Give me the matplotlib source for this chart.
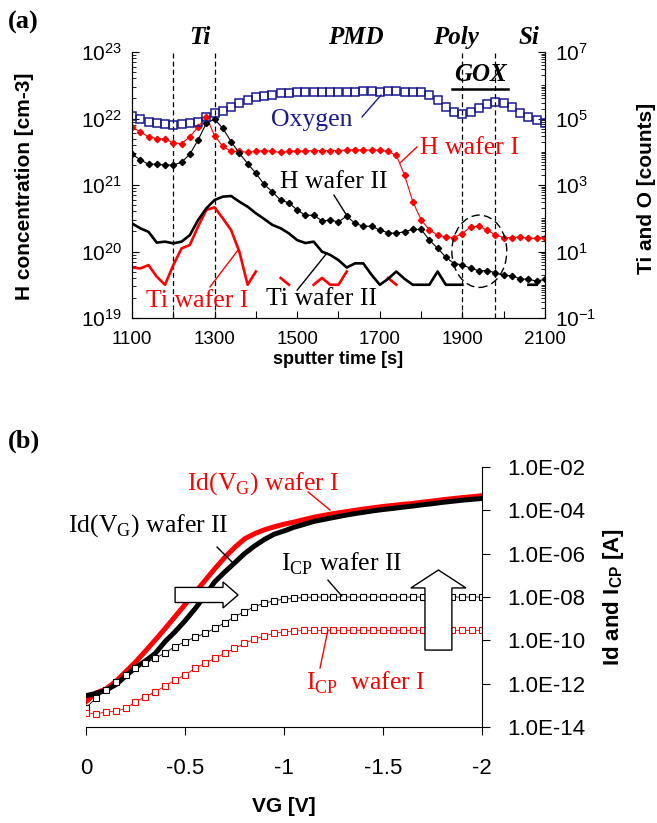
import numpy as np
import matplotlib
matplotlib.use("Agg")
import matplotlib.pyplot as plt
from matplotlib.patches import Ellipse, FancyArrow
from matplotlib.ticker import FixedLocator, NullFormatter, NullLocator

plt.rcParams['font.family'] = 'Liberation Sans'
plt.rcParams['axes.unicode_minus'] = False

nan = np.nan
navy = '#1a1a8f'
serif = 'Liberation Serif'

# ---------------- (a) SIMS profile, one point every 20 s ----------------
sputter_time = np.arange(1100, 2101, 20)

# H concentration [cm-3] (left axis)
h_wafer1 = [7.5e21, 6.3e21, 5.3e21, 5.0e21, 4.9e21, 4.3e21, 4.2e21, 5.3e21, 7.5e21, 1.06e22,
            5.5e21, 3.8e21, 3.2e21, 3.2e21, 3.1e21, 3.2e21, 3.3e21, 3.2e21, 3.1e21, 3.2e21,
            3.25e21, 3.25e21, 3.3e21, 3.3e21, 3.3e21, 3.3e21, 3.35e21, 3.4e21, 3.35e21, 3.35e21,
            3.35e21, 3.2e21, 2.8e21, 1.41e21, 5.6e20, 3.0e20, 2.1e20, 1.77e20, 1.66e20, 1.62e20,
            1.86e20, 2.36e20, 2.4e20, 2.1e20, 1.77e20, 1.62e20, 1.62e20, 1.66e20, 1.58e20, 1.58e20,
            1.62e20]
h_wafer2 = [2.9e21, 2.4e21, 2.05e21, 2.05e21, 2.0e21, 2.0e21, 2.2e21, 2.9e21, 4.75e21, 8.5e21,
            9.8e21, 7.1e21, 4.5e21, 3.0e21, 2.1e21, 1.5e21, 1.02e21, 7.9e20, 5.9e20, 5.4e20,
            4.2e20, 3.5e20, 3.5e20, 2.9e20, 2.95e20, 2.8e20, 3.4e20, 2.65e20, 2.4e20, 2.4e20,
            2.1e20, 1.92e20, 1.88e20, 1.99e20, 2.15e20, 2.15e20, 1.49e20, 1.12e20, 8.2e19, 6.6e19,
            6.3e19, 5.6e19, 5.15e19, 5.15e19, 4.8e19, 4.4e19, 4.3e19, 3.9e19, 3.8e19, 3.6e19,
            3.8e19]

# counts (right axis); nan = zero counts, not shown on log scale
oxygen = [1.22e5, 9.7e4, 8.0e4, 7.2e4, 6.7e4, 6.4e4, 6.7e4, 7.2e4, 8.0e4, 1.08e5,
          1.5e5, 1.68e5, 2.17e5, 2.86e5, 3.6e5, 4.3e5, 4.9e5, 5.2e5, 5.7e5, 6.0e5,
          6.1e5, 6.1e5, 6.3e5, 6.3e5, 6.3e5, 6.3e5, 6.3e5, 6.3e5, 6.6e5, 6.6e5,
          6.4e5, 6.6e5, 6.6e5, 6.4e5, 6.4e5, 6.3e5, 5.1e5, 3.6e5, 2.17e5, 1.6e5,
          1.33e5, 1.53e5, 2.1e5, 2.67e5, 3.06e5, 2.86e5, 2.17e5, 1.5e5, 1.14e5, 9.0e4,
          7.2e4]
ti_wafer1 = [3.3, 3.1, 3.9, 1.75, 1.0, 3.9, 12.4, 15.7, 56, 177,
             213, 99, 44, 9.9, 1.0, 2.5, nan, nan, 1.6, 1.0,
             nan, nan, 1.0, 1.6, 1.0, 1.0, 2.5, nan, nan, nan,
             nan, 1.6, 1.0, nan, nan, nan, nan, nan, nan, nan,
             nan, nan, nan, nan, nan, nan, nan, nan, nan, nan,
             nan]
ti_wafer2 = [70, 50, 39, 18.5, 19.8, 17.6, 19.8, 31, 88, 199,
             354, 446, 467, 315, 223, 141, 95, 63, 50, 35,
             22, 18, 19.8, 9.9, 7.9, 5.5, 3.3, 4.4, 4.4, 2.0,
             1.0, 1.5, 2.5, 1.5, 1.0, 1.0, 1.0, 2.5, 1.0, 1.0,
             1.0, nan, nan, nan, nan, nan, nan, nan, 1.0, 1.0,
             nan]

layer_bounds = [1200, 1300, 1900, 1980]
layer_names = ['Ti', 'PMD', 'Poly', 'Si']
layer_pos = [1265, 1642, 1885, 2061]
time_ticks = list(range(1100, 2101, 100))
time_labels = ['1100', '', '1300', '', '1500', '', '1700', '', '1900', '', '2100']

# ---------------- (b) Id(VG) and Icp, every 0.05 V (log10 of A) ----------------
gate_voltage = np.round(np.arange(0, -2.001, -0.05), 2)
id_wafer1_exp = [-12.83, -12.43, -12.25, -11.90, -11.45, -11.00, -10.50, -9.98, -9.45, -8.90,
                 -8.35, -7.80, -7.25, -6.70, -6.18, -5.72, -5.32, -5.08, -4.90, -4.76,
                 -4.64, -4.54, -4.43, -4.32, -4.23, -4.15, -4.08, -4.01, -3.94, -3.88,
                 -3.82, -3.77, -3.72, -3.68, -3.62, -3.57, -3.51, -3.46, -3.41, -3.37, -3.32]
id_wafer2_exp = [-12.55, -12.45, -12.30, -12.05, -11.65, -11.25, -10.95, -10.60, -10.05, -9.60,
                 -9.10, -8.55, -7.95, -7.30, -6.85, -6.43, -6.00, -5.65, -5.35, -5.10,
                 -4.95, -4.78, -4.65, -4.51, -4.42, -4.33, -4.24, -4.16, -4.09, -4.02,
                 -3.96, -3.91, -3.85, -3.80, -3.74, -3.69, -3.63, -3.58, -3.53, -3.49, -3.45]
icp_wafer2_exp = [-13.10, -12.68, -12.29, -11.91, -11.60, -11.29, -11.06, -10.83, -10.57, -10.29,
                  -10.06, -9.86, -9.68, -9.45, -9.19, -8.91, -8.68, -8.45, -8.29, -8.17,
                  -8.10, -8.06, -8.02, -8.00, -8.00, -8.00, -8.00, -8.00, -8.00, -8.00,
                  -8.00, -8.00, -8.00, -8.00, -8.00, -8.00, -8.00, -8.00, -8.00, -8.00, -8.00]
icp_wafer1_exp = [-13.34, -13.40, -13.30, -13.28, -13.14, -12.83, -12.60, -12.37, -12.10, -11.83,
                  -11.60, -11.29, -11.06, -10.83, -10.60, -10.37, -10.14, -9.95, -9.80, -9.68,
                  -9.60, -9.57, -9.54, -9.54, -9.54, -9.54, -9.54, -9.54, -9.54, -9.54,
                  -9.54, -9.54, -9.54, -9.54, -9.54, -9.54, -9.54, -9.54, -9.54, -9.54, -9.54]

vg_ticks = [0, -0.5, -1, -1.5, -2]
vg_labels = ['0', '-0.5', '-1', '-1.5', '-2']
i_ticks = [1e-14, 1e-12, 1e-10, 1e-8, 1e-6, 1e-4, 1e-2]
i_labels = ['1.0E-14', '1.0E-12', '1.0E-10', '1.0E-08', '1.0E-06', '1.0E-04', '1.0E-02']


def minor_log(lo, hi):
    return [m * 10.0 ** e for e in range(lo, hi) for m in range(2, 10)]


fig = plt.figure(figsize=(6.57, 8.23), dpi=100)

# ================= panel (a) =================
ax = fig.add_axes([0.2009, 0.6136, 0.6286, 0.3232])
axr = ax.twinx()

ax.plot(sputter_time, h_wafer1, color='red', lw=0.8, marker='D', ms=3.2, zorder=3)
ax.plot(sputter_time, h_wafer2, color='black', lw=0.8, marker='D', ms=3.2, zorder=3)
axr.plot(sputter_time, oxygen, ls='none', marker='s', ms=6.4, mfc='none', mec=navy, mew=1.1)
axr.plot(sputter_time, ti_wafer1, color='red', lw=1.9)
axr.plot(sputter_time, ti_wafer2, color='black', lw=1.9)

for tb in layer_bounds:
    ax.axvline(tb, color='black', lw=0.9, ls=(0, (4, 2.5)))

ax.set_yscale('log')
ax.set_ylim(1e19, 1e23)
ax.set_xlim(1100, 2100)
axr.set_yscale('log')
axr.set_ylim(0.1, 1e7)

ax.yaxis.set_major_locator(FixedLocator([1e19, 1e20, 1e21, 1e22, 1e23]))
ax.yaxis.set_minor_locator(FixedLocator(minor_log(19, 23)))
ax.yaxis.set_minor_formatter(NullFormatter())
axr.yaxis.set_major_locator(FixedLocator([1e-1, 1e1, 1e3, 1e5, 1e7]))
axr.yaxis.set_minor_locator(FixedLocator(minor_log(-1, 7) + [1, 1e2, 1e4, 1e6]))
axr.yaxis.set_minor_formatter(NullFormatter())
ax.set_xticks(time_ticks)
ax.set_xticklabels(time_labels)

for a in (ax, axr):
    a.spines['top'].set_visible(False)
    a.tick_params(axis='y', which='major', direction='in', length=5, labelsize=15, pad=7)
    a.tick_params(axis='y', which='minor', direction='in', length=3)
ax.tick_params(axis='x', direction='in', length=5, labelsize=13.5, pad=9)

xt = ax.get_xaxis_transform()
for name, pos in zip(layer_names, layer_pos):
    ax.text(pos, 1.055, name, transform=xt, family=serif, weight='bold', style='italic',
            size=18, ha='center', va='center')
ax.text(1943, 0.915, 'GOX', transform=xt, family=serif, weight='bold', style='italic',
        size=18, ha='center', va='center')
ax.plot([1874, 2010], [0.861, 0.861], transform=xt, color='black', lw=1.8, clip_on=False)

ax.add_patch(Ellipse((0.841, 0.251), 0.133, 0.272, transform=ax.transAxes, fill=False,
                     ec='black', lw=1.0, ls=(0, (6, 3)), zorder=4))

ta = ax.transAxes
ax.text(0.436, 0.744, 'Oxygen', transform=ta, family=serif, size=18.5, color=navy,
        ha='center', va='center')
ax.plot([0.557, 0.603], [0.756, 0.838], transform=ta, color=navy, lw=1)
ax.text(0.818, 0.639, 'H wafer I', transform=ta, family=serif, size=18.5, color='red',
        ha='center', va='center')
ax.plot([0.649, 0.690], [0.583, 0.643], transform=ta, color='red', lw=1)
ax.text(0.489, 0.511, 'H wafer II', transform=ta, family=serif, size=18.5, color='black',
        ha='center', va='center')
ax.plot([0.489, 0.521], [0.462, 0.383], transform=ta, color='black', lw=1)
ax.text(0.157, 0.064, 'Ti wafer I', transform=ta, family=serif, size=18.5, color='red',
        ha='center', va='center')
ax.plot([0.189, 0.257], [0.117, 0.256], transform=ta, color='red', lw=1)
ax.text(0.458, 0.071, 'Ti wafer II', transform=ta, family=serif, size=18.5, color='black',
        ha='center', va='center')
ax.plot([0.400, 0.472], [0.105, 0.244], transform=ta, color='black', lw=1)

fig.text(25 / 657, 1 - 186 / 823, 'H concentration [cm-3]', rotation=90, weight='bold',
         size=15, ha='center', va='center')
fig.text(646 / 657, 1 - 188 / 823, 'Ti and O [counts]', rotation=90, weight='bold',
         size=15, ha='center', va='center')
fig.text(338 / 657, 1 - 359 / 823, 'sputter time [s]', weight='bold', size=13,
         ha='center', va='center')
fig.text(8 / 657, 1 - 22 / 823, '(a)', family=serif, weight='bold', size=19,
         ha='left', va='center')

# ================= panel (b) =================
bx = fig.add_axes([0.1309, 0.1166, 0.6027, 0.3159])

bx.plot(gate_voltage, 10.0 ** np.array(id_wafer1_exp), color='red', lw=3.6)
bx.plot(gate_voltage, 10.0 ** np.array(id_wafer2_exp), color='black', lw=3.6)
bx.plot(gate_voltage, 10.0 ** np.array(icp_wafer2_exp), color='black', lw=0.6,
        marker='s', ms=3.8, mfc='white', mew=0.8)
bx.plot(gate_voltage, 10.0 ** np.array(icp_wafer1_exp), color='red', lw=0.6,
        marker='s', ms=3.8, mfc='white', mew=0.8)

bx.set_yscale('log')
bx.set_ylim(1e-14, 1e-2)
bx.set_xlim(0, -2)
bx.spines['top'].set_visible(False)
bx.spines['left'].set_visible(False)
bx.yaxis.tick_right()
bx.yaxis.set_major_locator(FixedLocator(i_ticks))
bx.yaxis.set_minor_locator(NullLocator())
bx.set_yticklabels(i_labels)
bx.set_xticks(vg_ticks)
bx.set_xticklabels(vg_labels)
bx.tick_params(axis='y', direction='out', length=6, labelsize=16, pad=12)
bx.tick_params(axis='x', direction='out', length=6, labelsize=16, pad=16)

tb_ = bx.transAxes
bx.text(0.447, 0.938, r'Id(V$_{\mathdefault{G}}$) wafer I', transform=tb_, family=serif,
        size=18.5, color='red', ha='center', va='center')
bx.plot([0.561, 0.616], [0.904, 0.835], transform=tb_, color='red', lw=1)
bx.text(0.157, 0.773, r'Id(V$_{\mathdefault{G}}$) wafer II', transform=tb_, family=serif,
        size=18.5, color='black', ha='center', va='center')
bx.plot([0.331, 0.374], [0.692, 0.627], transform=tb_, color='black', lw=1)
bx.text(0.646, 0.627, r'I$_{\mathdefault{CP}}$ wafer II', transform=tb_, family=serif,
        size=18.5, color='black', ha='center', va='center')
bx.plot([0.611, 0.646], [0.565, 0.504], transform=tb_, color='black', lw=1)
bx.text(0.705, 0.169, r'I$_{\mathdefault{CP}}$  wafer I', transform=tb_, family=serif,
        size=18.5, color='red', ha='center', va='center')
bx.plot([0.591, 0.611], [0.227, 0.373], transform=tb_, color='red', lw=1)

bx.add_patch(FancyArrow(0.225, 0.508, 0.159, 0, width=0.058, head_width=0.100,
                        head_length=0.038, length_includes_head=True, transform=tb_,
                        fc='white', ec='black', lw=1, zorder=6))
bx.add_patch(FancyArrow(0.890, 0.296, 0, 0.308, width=0.068, head_width=0.139,
                        head_length=0.069, length_includes_head=True, transform=tb_,
                        fc='white', ec='black', lw=1, zorder=6))

fig.text(614 / 657, 1 - 597 / 823, r'Id and I$_{\mathdefault{CP}}$ [A]', rotation=90,
         weight='bold', size=16, ha='center', va='center')
fig.text(284 / 657, 1 - 807 / 823, 'VG [V]', weight='bold', size=15, ha='center', va='center')
fig.text(8 / 657, 1 - 441 / 823, '(b)', family=serif, weight='bold', size=19,
         ha='left', va='center')

fig.savefig('out.png', dpi=100)
